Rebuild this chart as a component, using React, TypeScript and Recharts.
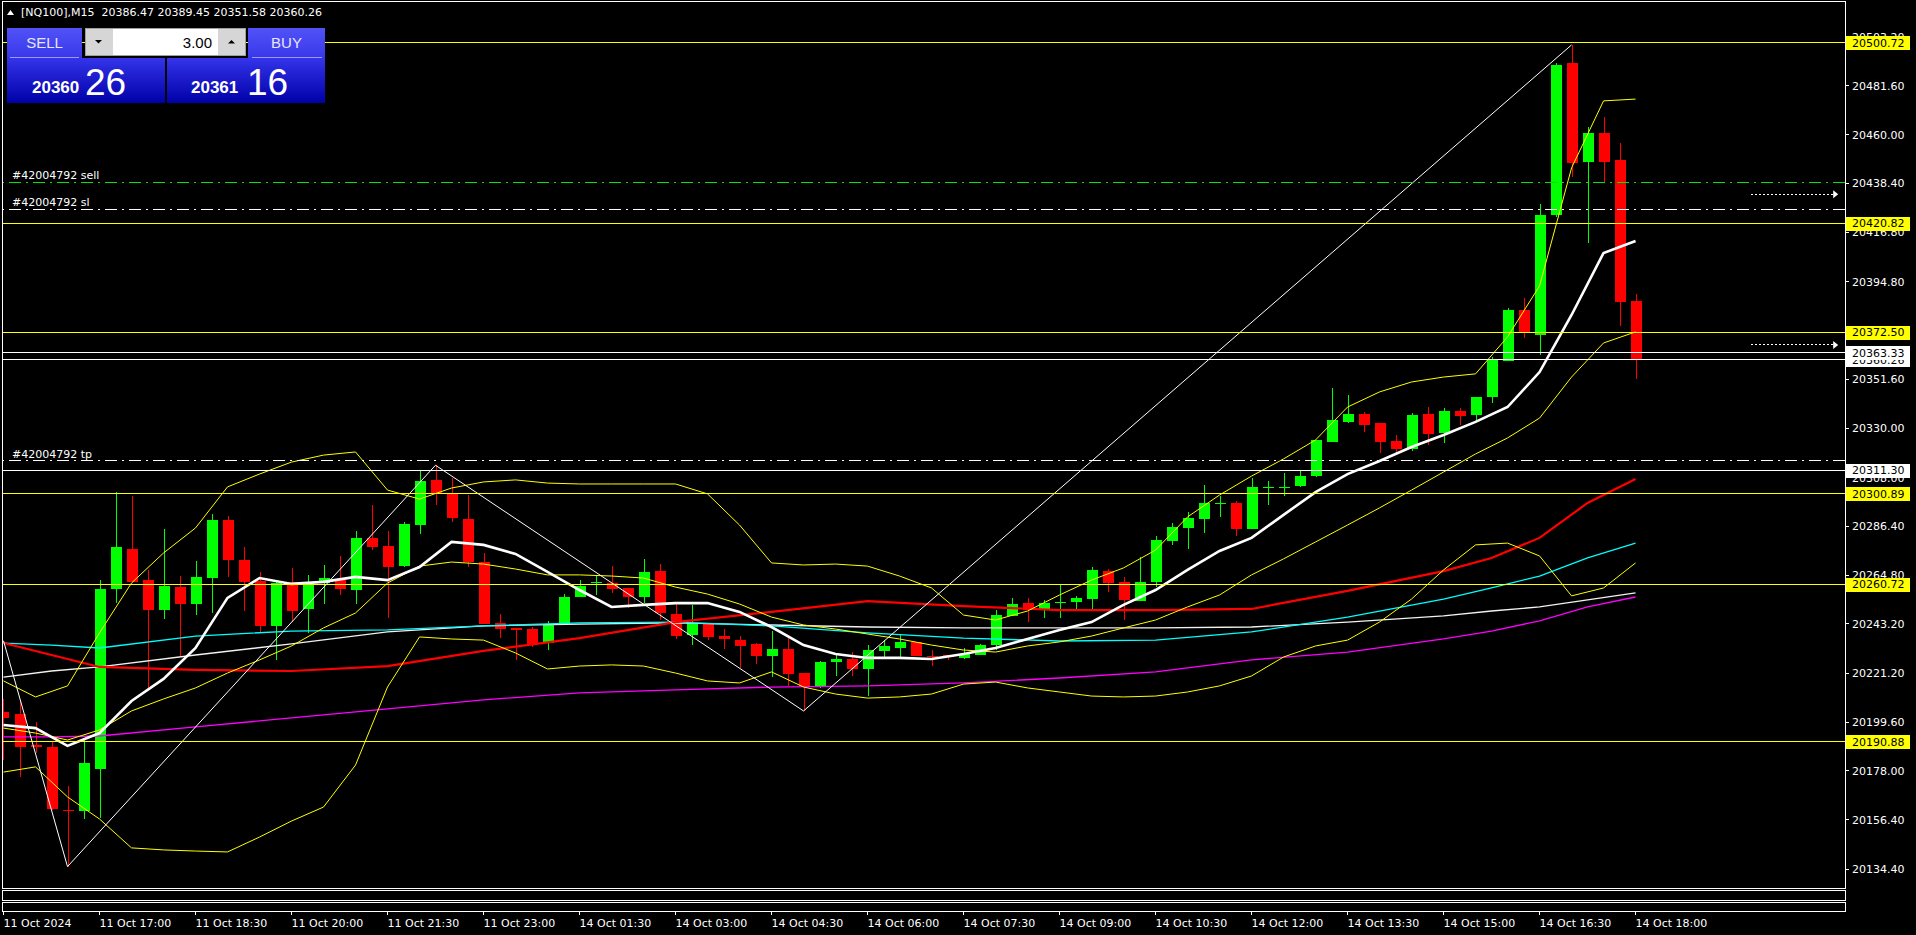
import React from "react";
import {
  ComposedChart,
  Bar,
  Line,
  XAxis,
  YAxis,
  ReferenceLine,
  ReferenceDot,
} from "recharts";

// NQ100 M15 candles, 11 Oct 15:30 .. 14 Oct 18:00
const opens = [
  20204.0, 20203.2, 20189.5, 20188.8, 20160.9, 20160.4, 20178.9, 20258.7, 20276.4, 20262.6,
  20249.3, 20259.5, 20252.0, 20263.7, 20289.2, 20271.7, 20262.2, 20242.4, 20261.8, 20249.8,
  20261.2, 20262.6, 20258.2, 20281.3, 20277.7, 20268.8, 20287.0, 20307.0, 20301.1, 20289.7,
  20270.6, 20243.6, 20241.4, 20241.1, 20234.9, 20243.1, 20255.3, 20261.2, 20261.2, 20259.1,
  20255.3, 20266.7, 20247.6, 20238.3, 20243.5, 20237.8, 20236.1, 20234.3, 20229.0, 20232.1,
  20221.4, 20215.7, 20226.3, 20227.6, 20223.4, 20231.2, 20232.5, 20235.2, 20229.0, 20229.3,
  20228.1, 20229.4, 20233.9, 20246.7, 20252.3, 20249.3, 20252.8, 20252.9, 20254.2, 20266.5,
  20261.7, 20253.5, 20261.7, 20279.9, 20285.7, 20289.7, 20296.6, 20296.7, 20285.2, 20303.7,
  20303.7, 20304.3, 20308.7, 20323.9, 20332.7, 20336.2, 20332.2, 20324.2, 20320.7, 20336.2,
  20327.9, 20337.5, 20335.8, 20343.9, 20359.8, 20382.3, 20371.2, 20424.4, 20491.8, 20448.0,
  20460.7, 20448.8, 20386.47,
];
const highs = [
  20210.0, 20209.4, 20199.8, 20191.0, 20171.3, 20192.5, 20262.6, 20301.5, 20299.9, 20267.1,
  20285.2, 20264.4, 20271.2, 20291.9, 20291.0, 20277.3, 20266.2, 20261.9, 20268.0, 20264.9,
  20269.3, 20273.3, 20284.4, 20295.9, 20284.4, 20288.5, 20311.0, 20313.5, 20307.9, 20300.3,
  20274.5, 20247.6, 20241.4, 20242.0, 20244.5, 20256.4, 20262.6, 20264.9, 20268.8, 20259.1,
  20272.0, 20269.8, 20252.9, 20251.6, 20243.5, 20240.9, 20237.8, 20234.9, 20240.1, 20237.0,
  20221.4, 20226.8, 20229.9, 20230.8, 20233.9, 20236.1, 20238.3, 20235.3, 20231.6, 20229.5,
  20232.4, 20234.3, 20249.4, 20254.6, 20254.6, 20253.7, 20260.4, 20255.5, 20268.4, 20267.5,
  20263.9, 20272.8, 20282.1, 20287.9, 20292.8, 20304.7, 20299.8, 20297.6, 20307.8, 20306.5,
  20310.0, 20310.9, 20324.9, 20347.7, 20344.6, 20337.1, 20332.2, 20326.9, 20336.6, 20339.3,
  20338.9, 20338.9, 20343.7, 20361.6, 20383.0, 20387.8, 20429.3, 20491.9, 20499.8, 20463.6,
  20467.7, 20456.2, 20389.45,
];
const lows = [
  20183.0, 20175.2, 20186.0, 20160.5, 20135.6, 20156.7, 20157.0, 20252.3, 20261.5, 20213.9,
  20245.4, 20228.7, 20247.1, 20247.9, 20264.1, 20249.0, 20239.4, 20227.2, 20244.2, 20239.0,
  20252.0, 20256.0, 20252.0, 20275.9, 20246.0, 20268.3, 20283.0, 20295.9, 20288.4, 20268.6,
  20243.3, 20236.9, 20227.2, 20233.1, 20231.6, 20242.5, 20255.3, 20256.0, 20257.0, 20250.1,
  20252.3, 20244.9, 20236.5, 20233.9, 20236.1, 20232.1, 20223.5, 20225.4, 20219.8, 20215.7,
  20204.6, 20214.6, 20220.1, 20220.1, 20211.2, 20228.1, 20228.5, 20228.9, 20224.3, 20227.2,
  20227.6, 20229.4, 20231.6, 20246.7, 20244.0, 20245.8, 20245.8, 20249.3, 20249.3, 20257.3,
  20244.9, 20253.3, 20259.7, 20278.1, 20276.4, 20283.4, 20290.5, 20282.1, 20285.2, 20295.9,
  20299.8, 20303.8, 20308.3, 20323.9, 20332.1, 20328.2, 20319.1, 20318.8, 20319.8, 20322.5,
  20323.3, 20331.3, 20333.1, 20341.2, 20359.8, 20370.0, 20362.3, 20423.7, 20441.4, 20412.1,
  20438.9, 20375.2, 20351.58,
];
const closes = [
  20201.5, 20188.8, 20188.8, 20161.1, 20160.5, 20181.4, 20258.7, 20277.3, 20261.9, 20249.3,
  20260.0, 20252.0, 20264.0, 20289.2, 20271.7, 20261.9, 20242.4, 20261.2, 20249.0, 20261.8,
  20263.5, 20258.8, 20281.3, 20277.3, 20268.5, 20287.5, 20306.5, 20301.1, 20290.1, 20270.6,
  20243.3, 20241.1, 20240.5, 20234.4, 20242.5, 20255.1, 20260.0, 20261.6, 20258.8, 20255.3,
  20266.2, 20247.9, 20238.0, 20243.5, 20237.5, 20236.4, 20233.4, 20229.0, 20232.1, 20221.0,
  20215.7, 20226.3, 20227.6, 20223.2, 20231.6, 20233.4, 20235.2, 20229.0, 20228.6, 20228.6,
  20229.9, 20233.9, 20247.2, 20252.0, 20249.3, 20252.3, 20253.0, 20254.6, 20267.0, 20261.3,
  20253.7, 20261.7, 20280.3, 20286.1, 20290.1, 20296.7, 20296.8, 20285.2, 20303.8, 20303.9,
  20304.0, 20308.7, 20324.7, 20333.5, 20336.2, 20331.3, 20323.9, 20320.7, 20335.8, 20327.5,
  20337.5, 20335.3, 20343.7, 20360.1, 20382.3, 20371.9, 20424.4, 20490.9, 20447.6, 20460.7,
  20448.0, 20386.0, 20360.26,
];

// indicators read every 2nd bar (bars 0, 2, 4 ... 102)
const fastMa = [
  20198.4, 20197.0, 20189.1, 20194.8, 20209.0, 20218.8, 20232.5, 20254.7, 20263.5, 20260.9,
  20261.8, 20264.0, 20262.6, 20268.4, 20279.5, 20278.2, 20274.2, 20266.2, 20258.2, 20250.7,
  20251.6, 20252.4, 20252.4, 20248.5, 20241.8, 20233.8, 20229.8, 20228.1, 20228.1, 20227.6,
  20229.8, 20232.5, 20236.5, 20240.5, 20244.0, 20251.6, 20258.2, 20267.1, 20275.5, 20281.3,
  20291.5, 20301.6, 20309.6, 20315.4, 20321.6, 20326.9, 20332.7, 20339.3, 20354.8, 20380.1,
  20407.6, 20412.9,
];
const bbUpper = [
  20217.9, 20210.8, 20215.7, 20239.2, 20261.3, 20274.6, 20285.7, 20303.9, 20309.6, 20314.9,
  20318.0, 20319.4, 20302.5, 20298.5, 20303.4, 20306.1, 20307.0, 20305.6, 20305.2, 20305.2,
  20305.2, 20305.2, 20300.8, 20287.0, 20270.2, 20269.3, 20269.7, 20268.8, 20264.4, 20259.1,
  20247.1, 20244.9, 20248.9, 20256.0, 20262.6, 20268.0, 20275.9, 20290.6, 20300.3, 20308.7,
  20316.3, 20324.7, 20339.3, 20346.0, 20350.4, 20352.6, 20354.0, 20370.4, 20393.0, 20445.3,
  20475.0, 20475.8,
];
const bbMiddle = [
  20197.0, 20194.8, 20191.7, 20196.2, 20204.6, 20209.9, 20214.8, 20221.4, 20227.2, 20233.4,
  20241.4, 20248.0, 20261.3, 20268.8, 20270.6, 20269.7, 20267.5, 20264.9, 20264.9, 20264.4,
  20263.5, 20259.5, 20256.4, 20252.0, 20246.2, 20242.7, 20240.9, 20238.7, 20236.5, 20233.8,
  20231.6, 20230.7, 20233.4, 20235.2, 20237.8, 20241.4, 20244.9, 20250.7, 20256.0, 20264.9,
  20272.0, 20279.5, 20287.0, 20294.6, 20302.5, 20310.5, 20318.5, 20325.6, 20334.4, 20352.6,
  20367.7, 20372.6,
];
const bbLower = [
  20177.5, 20179.8, 20166.5, 20156.7, 20143.9, 20143.0, 20142.5, 20142.1, 20148.7, 20155.8,
  20162.0, 20180.6, 20215.2, 20237.4, 20236.5, 20236.0, 20230.3, 20223.2, 20224.5, 20225.0,
  20224.5, 20221.4, 20217.9, 20217.0, 20221.9, 20215.2, 20212.1, 20210.3, 20210.8, 20212.1,
  20216.5, 20217.4, 20214.8, 20213.0, 20211.2, 20210.8, 20211.2, 20213.0, 20215.7, 20220.1,
  20228.5, 20233.4, 20236.0, 20244.0, 20254.2, 20267.1, 20278.2, 20279.0, 20273.3, 20255.6,
  20259.1, 20270.2,
];

// slow moving averages, read at these bars
const slowBars = [0, 3, 6, 12, 18, 24, 30, 36, 42, 48, 54, 60, 66, 72, 78, 84, 90, 93, 96, 99, 102];
const maRed = [
  20234.7, 20229.4, 20224.1, 20222.8, 20222.3, 20224.5, 20231.2, 20236.9, 20244.0, 20248.5, 20253.3,
  20251.1, 20249.3, 20249.3, 20249.8, 20257.8, 20266.6, 20272.4, 20281.3, 20296.8, 20307.4,
];
const maCyan = [
  20234.7, 20233.8, 20232.5, 20237.8, 20240.0, 20240.5, 20242.3, 20243.6, 20244.0, 20242.3, 20239.2,
  20236.9, 20235.6, 20236.0, 20239.6, 20246.2, 20254.2, 20259.1, 20264.4, 20272.4, 20279.0,
];
const maSilver = [
  20219.6, 20222.3, 20224.1, 20229.4, 20234.3, 20239.6, 20242.3, 20243.1, 20243.6, 20242.7, 20241.8,
  20241.4, 20241.4, 20241.4, 20241.8, 20244.0, 20246.7, 20248.9, 20250.7, 20253.8, 20256.9,
];
const maMagenta = [
  20193.1, 20193.1, 20193.5, 20197.5, 20201.5, 20205.5, 20209.5, 20212.6, 20213.9, 20215.2, 20215.7,
  20217.0, 20219.2, 20221.9, 20227.2, 20230.7, 20236.5, 20240.0, 20244.5, 20250.7, 20255.1,
];

const zigzagBars = [0, 4, 27, 50, 98];
const zigzagPrices = [20235.7, 20135.6, 20313.5, 20204.6, 20499.8];

const timeTicks = [0, 6, 12, 18, 24, 30, 36, 42, 48, 54, 60, 66, 72, 78, 84, 90, 96, 102];
const timeLabels = [
  "11 Oct 2024", "11 Oct 17:00", "11 Oct 18:30", "11 Oct 20:00", "11 Oct 21:30", "11 Oct 23:00",
  "14 Oct 01:30", "14 Oct 03:00", "14 Oct 04:30", "14 Oct 06:00", "14 Oct 07:30", "14 Oct 09:00",
  "14 Oct 10:30", "14 Oct 12:00", "14 Oct 13:30", "14 Oct 15:00", "14 Oct 16:30", "14 Oct 18:00",
];

const priceTicks = [
  20503.2, 20481.6, 20460.0, 20438.4, 20416.8, 20394.8, 20373.2, 20351.6, 20330.0,
  20308.0, 20286.4, 20264.8, 20243.2, 20221.2, 20199.6, 20178.0, 20156.4, 20134.4,
];

const yellowLevels = [20500.72, 20420.82, 20372.5, 20300.89, 20260.72, 20190.88];
const whiteLevels = [20311.3, 20360.26, 20363.33];
const tagPrices = [...yellowLevels, ...whiteLevels];
const orderNames = ["#42004792 sell", "#42004792 sl", "#42004792 tp"];
const orderPrices = [20438.9, 20427.0, 20315.4];
const orderColors = ["#00e600", "#ffffff", "#ffffff"];
const arrowPrices = [20433.6, 20366.8];

const X_MIN = -0.03125;
const X_MAX = 115.09;
const Y_MIN = 20126.12;
const Y_MAX = 20518.83;
const AXIS_W = 70;

const rows = opens.map((o, i) => {
  const s = slowBars.indexOf(i);
  const z = zigzagBars.indexOf(i);
  const even = i % 2 === 0;
  return {
    i,
    o,
    h: highs[i],
    l: lows[i],
    c: closes[i],
    range: [lows[i], highs[i]],
    fast: even ? fastMa[i / 2] : null,
    bbUp: even ? bbUpper[i / 2] : null,
    bbMid: even ? bbMiddle[i / 2] : null,
    bbLow: even ? bbLower[i / 2] : null,
    red: s >= 0 ? maRed[s] : null,
    cyan: s >= 0 ? maCyan[s] : null,
    silver: s >= 0 ? maSilver[s] : null,
    magenta: s >= 0 ? maMagenta[s] : null,
    zz: z >= 0 ? zigzagPrices[z] : null,
  };
});

function Candle(props: any) {
  const { x, width, payload } = props;
  let { y, height } = props;
  if (height < 0) {
    y += height;
    height = -height;
  }
  const { o, h, l, c } = payload;
  const color = c >= o ? "#00ff00" : "#ff0000";
  const k = h > l ? height / (h - l) : 0;
  const top = y + (h - Math.max(o, c)) * k;
  const bodyH = Math.max(1, Math.abs(o - c) * k);
  const cx = x + width / 2;
  return (
    <g shapeRendering="crispEdges">
      <line x1={cx} x2={cx} y1={y} y2={y + height} stroke={color} />
      <rect x={x} y={top} width={width} height={bodyH} fill={color} />
    </g>
  );
}

function TimeTick(props: any) {
  const { x, y, payload } = props;
  const label = timeLabels[timeTicks.indexOf(payload.value)];
  return (
    <g>
      <line x1={x} x2={x} y1={y + 23} y2={y + 27} stroke="#fff" shapeRendering="crispEdges" />
      <text x={x} y={y + 39} fill="#fff" fontSize={11}>
        {label}
      </text>
    </g>
  );
}

function PriceTick(props: any) {
  const { x, y, payload } = props;
  return (
    <g>
      <line x1={x} x2={x + 4} y1={y} y2={y} stroke="#fff" shapeRendering="crispEdges" />
      <text x={x + 7} y={y + 4} fill="#fff" fontSize={11}>
        {Number(payload.value).toFixed(2)}
      </text>
    </g>
  );
}

// price tags live on a second, zero-width axis so they sit above the tick labels
function TagTick(props: any) {
  const { x, y, payload } = props;
  const v = Number(payload.value);
  const bg = yellowLevels.includes(v) ? "#ffff00" : "#ffffff";
  const left = x - AXIS_W + 1;
  return (
    <g>
      <rect x={left} y={y - 6.5} width={64} height={14} fill={bg} shapeRendering="crispEdges" />
      <text x={left + 6} y={y + 4} fill="#000" fontSize={11}>
        {v.toFixed(2)}
      </text>
    </g>
  );
}

function OrderLabel(props: any) {
  const { viewBox, text } = props;
  if (!viewBox) return null;
  return (
    <text x={viewBox.x + 9} y={viewBox.y - 3} fill="#fff" fontSize={11}>
      {text}
    </text>
  );
}

function ArrowHead(props: any) {
  const { cx, cy } = props;
  return <polygon points={`${cx - 4},${cy - 4} ${cx + 1},${cy} ${cx - 4},${cy + 4}`} fill="#fff" />;
}

function TradePanel() {
  return (
    <svg width={330} height={106} style={{ position: "absolute", left: 0, top: 0 }}>
      <defs>
        <linearGradient id="btnGrad" x1="0" y1="0" x2="0" y2="1">
          <stop offset="0" stopColor="#5252f8" />
          <stop offset="1" stopColor="#3838ea" />
        </linearGradient>
        <linearGradient id="pxGrad" x1="0" y1="0" x2="0" y2="1">
          <stop offset="0" stopColor="#3434ea" />
          <stop offset="1" stopColor="#0000a8" />
        </linearGradient>
      </defs>
      <rect x={7} y={28} width={75} height={30} fill="url(#btnGrad)" />
      <rect x={248} y={28} width={77} height={30} fill="url(#btnGrad)" />
      <rect x={7} y={58} width={158} height={45} fill="url(#pxGrad)" />
      <rect x={167} y={58} width={158} height={45} fill="url(#pxGrad)" />
      <line x1={10} x2={79} y1={57.5} y2={57.5} stroke="#9a9aff" />
      <line x1={252} x2={322} y1={57.5} y2={57.5} stroke="#9a9aff" />
      <rect x={85.5} y={28.5} width={160} height={27} fill="#d6d6d6" stroke="#a0a0a0" />
      <rect x={113} y={29} width={105} height={26} fill="#ffffff" />
      <polygon points="95,40 102,40 98.5,43.5" fill="#000" />
      <polygon points="228,43.5 235,43.5 231.5,40" fill="#000" />
      <g fontFamily="Liberation Sans" fill="#e6e6ff">
        <text x={44.5} y={48} fontSize={15} textAnchor="middle">SELL</text>
        <text x={286.5} y={48} fontSize={15} textAnchor="middle">BUY</text>
      </g>
      <text x={212} y={48} fontSize={15} fontFamily="Liberation Sans" textAnchor="end" fill="#000">
        3.00
      </text>
      <g fontFamily="Liberation Sans" fill="#ffffff">
        <text x={32} y={93} fontSize={17} fontWeight={700}>20360</text>
        <text x={85} y={95} fontSize={37}>26</text>
        <text x={191} y={93} fontSize={17} fontWeight={700}>20361</text>
        <text x={247} y={95} fontSize={37}>16</text>
      </g>
    </svg>
  );
}

export default function App() {
  return (
    <div
      style={{
        position: "absolute",
        left: 0,
        top: 0,
        width: 1916,
        height: 935,
        background: "#000",
        fontFamily: "DejaVu Sans",
        overflow: "hidden",
      }}
    >
      <ComposedChart
        width={1916}
        height={935}
        data={rows}
        margin={{ top: 2, right: 0, bottom: 0, left: 3 }}
      >
        <XAxis
          dataKey="i"
          type="number"
          domain={[X_MIN, X_MAX]}
          allowDataOverflow
          ticks={timeTicks}
          interval={0}
          tick={(p: any) => <TimeTick {...p} />}
          axisLine={false}
          tickLine={false}
          tickSize={0}
          tickMargin={0}
          height={47}
        />
        <YAxis
          orientation="right"
          type="number"
          domain={[Y_MIN, Y_MAX]}
          allowDataOverflow
          ticks={priceTicks}
          interval={0}
          tick={(p: any) => <PriceTick {...p} />}
          axisLine={false}
          tickLine={false}
          tickSize={0}
          tickMargin={0}
          width={AXIS_W}
        />
        <YAxis
          yAxisId="tags"
          orientation="right"
          type="number"
          domain={[Y_MIN, Y_MAX]}
          allowDataOverflow
          ticks={tagPrices}
          interval={0}
          tick={(p: any) => <TagTick {...p} />}
          axisLine={false}
          tickLine={false}
          tickSize={0}
          tickMargin={0}
          width={1}
        />
        <Bar dataKey="range" barSize={11} shape={(p: any) => <Candle {...p} />} isAnimationActive={false} />
        <Line dataKey="magenta" stroke="#ff00ff" strokeWidth={1.3} dot={false} activeDot={false} connectNulls isAnimationActive={false} />
        <Line dataKey="silver" stroke="#f2f2f2" strokeWidth={1.3} dot={false} activeDot={false} connectNulls isAnimationActive={false} />
        <Line dataKey="cyan" stroke="#00ffff" strokeWidth={1.3} dot={false} activeDot={false} connectNulls isAnimationActive={false} />
        <Line dataKey="red" stroke="#ff0000" strokeWidth={2.2} dot={false} activeDot={false} connectNulls isAnimationActive={false} />
        <Line dataKey="bbUp" stroke="#ffff00" strokeWidth={1} dot={false} activeDot={false} connectNulls isAnimationActive={false} />
        <Line dataKey="bbMid" stroke="#ffff00" strokeWidth={1} dot={false} activeDot={false} connectNulls isAnimationActive={false} />
        <Line dataKey="bbLow" stroke="#ffff00" strokeWidth={1} dot={false} activeDot={false} connectNulls isAnimationActive={false} />
        <Line dataKey="fast" stroke="#ffffff" strokeWidth={2.6} dot={false} activeDot={false} connectNulls isAnimationActive={false} />
        <Line dataKey="zz" stroke="#ffffff" strokeWidth={1} dot={false} activeDot={false} connectNulls isAnimationActive={false} />

        {yellowLevels.map((p) => (
          <ReferenceLine key={`y${p}`} y={p} stroke="#ffff00" shapeRendering="crispEdges" />
        ))}
        {whiteLevels.map((p) => (
          <ReferenceLine key={`w${p}`} y={p} stroke="#ffffff" shapeRendering="crispEdges" />
        ))}
        {orderPrices.map((p, k) => (
          <ReferenceLine
            key={`o${k}`}
            y={p}
            stroke={orderColors[k]}
            strokeDasharray="12 5 2 5"
            shapeRendering="crispEdges"
            label={<OrderLabel text={orderNames[k]} />}
          />
        ))}
        {arrowPrices.map((p, k) => (
          <ReferenceLine
            key={`a${k}`}
            segment={[
              { x: 109.2, y: p },
              { x: 114.5, y: p },
            ]}
            stroke="#ffffff"
            strokeDasharray="2 2"
            shapeRendering="crispEdges"
          />
        ))}
        {arrowPrices.map((p, k) => (
          <ReferenceDot key={`ah${k}`} x={114.6} y={p} shape={(s: any) => <ArrowHead {...s} />} />
        ))}
      </ComposedChart>

      {/* chart window frame and the two empty indicator sub-windows */}
      <div style={{ position: "absolute", left: 2, top: 1, width: 1844, height: 888, border: "1px solid #fff", boxSizing: "border-box" }} />
      <div style={{ position: "absolute", left: 2, top: 890, width: 1844, height: 11, border: "1px solid #fff", boxSizing: "border-box" }} />
      <div style={{ position: "absolute", left: 2, top: 902, width: 1844, height: 10, border: "1px solid #fff", boxSizing: "border-box" }} />

      <svg width={340} height={22} style={{ position: "absolute", left: 0, top: 0 }}>
        <polygon points="7,15 14,15 10.5,10" fill="#fff" />
        <text x={21} y={16} fill="#fff" fontSize={11} fontFamily="DejaVu Sans">
          [NQ100],M15{"\u00a0\u00a0"}20386.47 20389.45 20351.58 20360.26
        </text>
      </svg>
      <TradePanel />
    </div>
  );
}
